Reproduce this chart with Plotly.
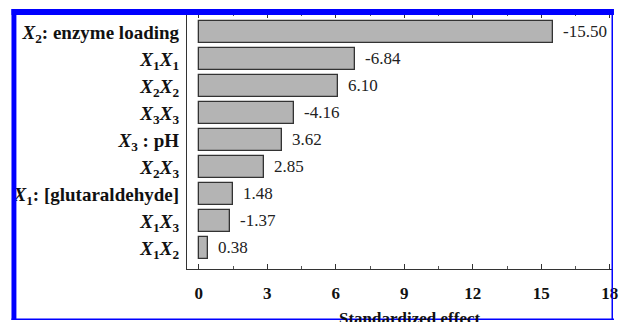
import plotly.graph_objects as go

# Standardized effects of the model terms (sign kept for the labels)
terms = [
    "<i>X</i><sub>2</sub>: enzyme loading",
    "<i>X</i><sub>1</sub><i>X</i><sub>1</sub>",
    "<i>X</i><sub>2</sub><i>X</i><sub>2</sub>",
    "<i>X</i><sub>3</sub><i>X</i><sub>3</sub>",
    "<i>X</i><sub>3</sub> : pH",
    "<i>X</i><sub>2</sub><i>X</i><sub>3</sub>",
    "<i>X</i><sub>1</sub>: [glutaraldehyde]",
    "<i>X</i><sub>1</sub><i>X</i><sub>3</sub>",
    "<i>X</i><sub>1</sub><i>X</i><sub>2</sub>",
]
effects = [-15.50, -6.84, 6.10, -4.16, 3.62, 2.85, 1.48, -1.37, 0.38]
x_ticks = [0, 3, 6, 9, 12, 15, 18]

W, H = 620, 322
L, R, T, B = 187, 2, 13, 53
pw, ph = W - L - R, H - T - B

def px(xp):
    return (xp - L) / pw

def py(yp):
    return 1 - (yp - T) / ph

positions = list(range(len(terms)))
magnitudes = [abs(v) for v in effects]

fig = go.Figure()
fig.add_trace(go.Bar(
    x=magnitudes, y=positions, orientation="h",
    width=0.81,
    marker=dict(color="#b4b4b4", line=dict(color="#333333", width=1.3)),
    hoverinfo="skip",
))

serif = "Liberation Serif"

for p, v in zip(positions, effects):
    fig.add_annotation(
        x=abs(v), y=p, xref="x", yref="y",
        text=f"{v:.2f}", showarrow=False,
        xanchor="left", yanchor="middle", xshift=8,
        font=dict(family=serif, size=17, color="#222222"),
    )

fig.add_annotation(
    x=px(413), y=py(318), xref="paper", yref="paper",
    text="<b>Standardized effect</b>", showarrow=False,
    xanchor="center", yanchor="middle",
    font=dict(family=serif, size=17, color="#111111"),
)

# blue frame around the figure
blue = "#0000ff"
frame = [
    (9, 9, 620, 15),
    (9, 9, 14, 320),
    (9, 318.5, 620, 320),
    (617.5, 9, 619, 320),
]
for x0, y0, x1, y1 in frame:
    fig.add_shape(type="rect", xref="paper", yref="paper",
                  x0=px(x0), x1=px(x1), y0=py(y0), y1=py(y1),
                  fillcolor=blue, line=dict(width=0), layer="above")

fig.update_layout(
    width=W, height=H,
    margin=dict(l=L, r=R, t=T, b=B, pad=0),
    paper_bgcolor="white", plot_bgcolor="white",
    showlegend=False,
    bargap=0,
    font=dict(family=serif, color="#111111"),
)

fig.update_xaxes(
    range=[-0.52, 18.1],
    tickmode="array", tickvals=x_ticks,
    ticktext=[f"<b>{t}</b>" for t in x_ticks],
    ticks="inside", ticklen=5, tickwidth=1, tickcolor="#333333",
    minor=dict(dtick=1.5, tick0=0, ticks="inside", ticklen=3, tickcolor="#555555"),
    showline=True, linecolor="#333333", linewidth=1.3, mirror="ticks",
    showgrid=False, zeroline=False,
    tickfont=dict(family=serif, size=17, color="#111111"),
    ticklabelstandoff=8,
    ticklabeloverflow="allow",
)
fig.update_yaxes(
    range=[8.78, -0.70],
    tickmode="array", tickvals=positions,
    ticktext=[f"<b>{t}</b>" for t in terms],
    ticks="", showline=True, linecolor="#333333", linewidth=1.3,
    showgrid=False, zeroline=False,
    tickfont=dict(family=serif, size=19, color="#111111"),
    ticklabelstandoff=3,
    ticklabeloverflow="allow",
)

fig.write_html("out.html")
